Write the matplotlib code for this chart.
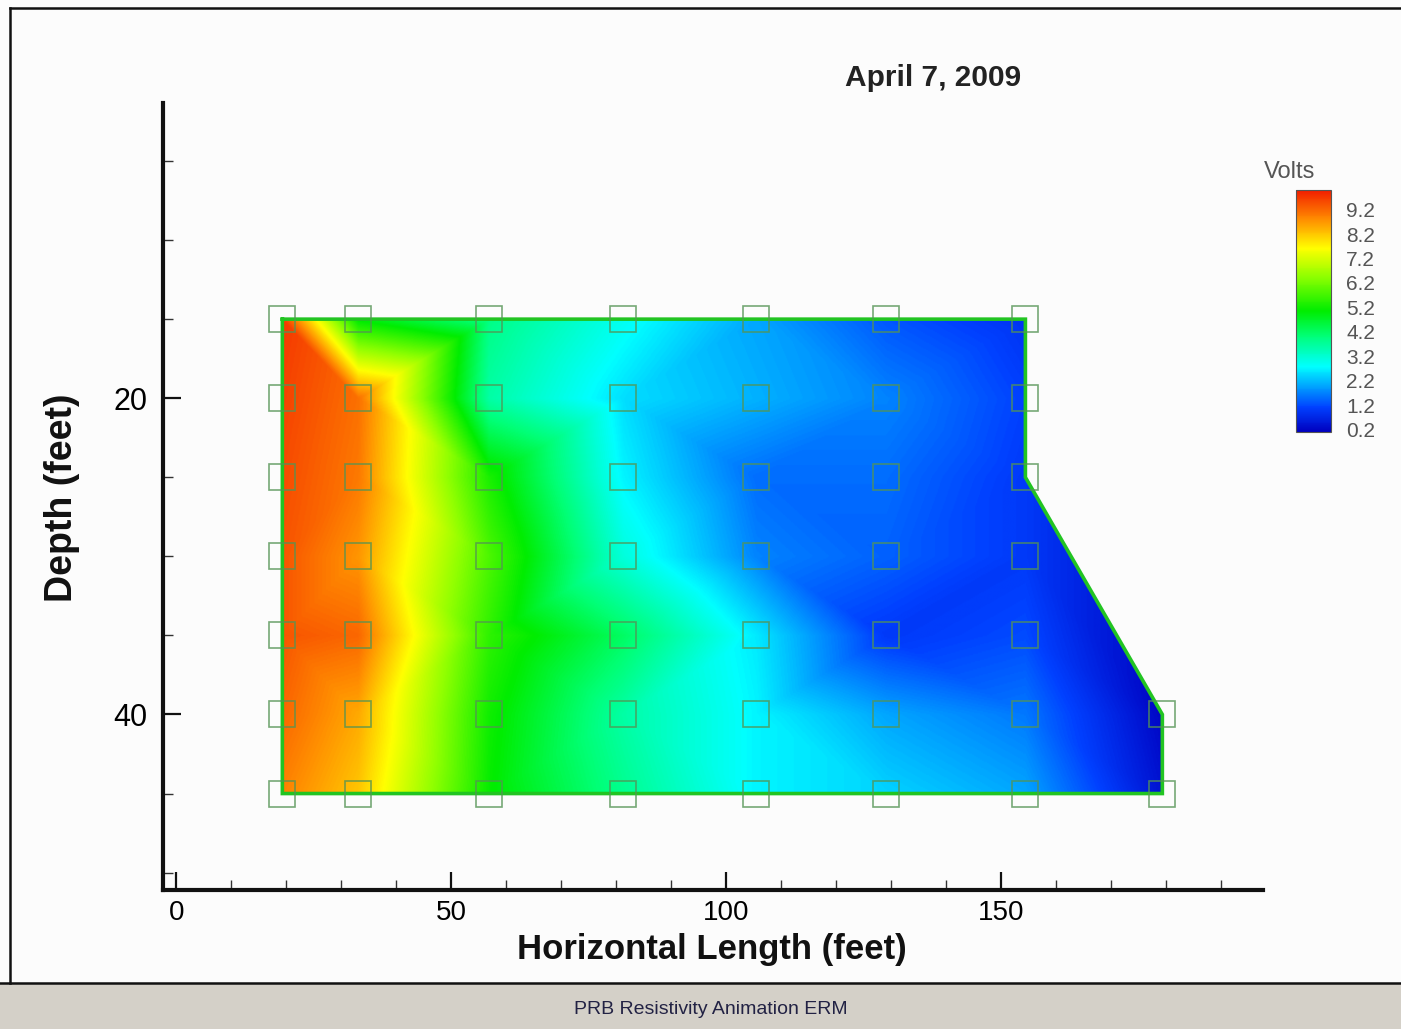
import numpy as np
import matplotlib
matplotlib.use("Agg")
import matplotlib.pyplot as plt
import matplotlib.tri as mtri
from matplotlib.path import Path
from matplotlib.colors import LinearSegmentedColormap, Normalize
from matplotlib.patches import Rectangle, Polygon
from matplotlib.lines import Line2D
from matplotlib.cm import ScalarMappable

# Electrode grid (feet) and measured potential (volts); nan = no electrode
x_nodes = [19.3, 33.1, 56.9, 81.3, 105.5, 129.1, 154.4, 179.3]
depth_nodes = [15, 20, 25, 30, 35, 40, 45]
volts = [
    [9.7, 5.0, 3.9, 2.9, 2.0, 1.3, 0.9, np.nan],
    [9.6, 9.1, 3.6, 2.5, 2.1, 1.7, 1.1, np.nan],
    [9.5, 9.0, 5.3, 2.7, 1.5, 1.5, 1.0, np.nan],
    [9.4, 8.7, 5.8, 3.1, 1.7, 1.4, 1.0, np.nan],
    [9.4, 9.2, 5.5, 4.2, 2.6, 1.0, 1.2, np.nan],
    [9.2, 8.5, 5.2, 3.6, 2.7, 2.0, 1.6, 0.2],
    [8.9, 8.2, 5.1, 3.8, 2.7, 2.4, 2.0, 0.4],
]
# outline of the section as (column index, row index) of grid nodes
outline = [(0, 0), (6, 0), (6, 2), (7, 5), (7, 6), (0, 6)]

cbar_ticks = [0.2, 1.2, 2.2, 3.2, 4.2, 5.2, 6.2, 7.2, 8.2, 9.2]
vmin, vmax = 0.1, 10.0

# Tecplot-like rainbow
cmap = LinearSegmentedColormap.from_list("rainbow_tp", [
    (0.00, (0.0, 0.0, 0.75)),
    (0.10, (0.0, 0.25, 1.0)),
    (0.27, (0.0, 1.0, 1.0)),
    (0.40, (0.0, 1.0, 0.45)),
    (0.50, (0.0, 0.93, 0.0)),
    (0.64, (0.55, 1.0, 0.0)),
    (0.76, (1.0, 1.0, 0.0)),
    (0.88, (1.0, 0.55, 0.0)),
    (1.00, (0.95, 0.12, 0.0)),
])

plt.rcParams["font.family"] = ["Liberation Sans", "DejaVu Sans"]

xx, dd = np.meshgrid(x_nodes, depth_nodes)
vv = np.array(volts)
ok = ~np.isnan(vv)
px, pd_, pv = xx[ok], dd[ok], vv[ok]

poly = [(x_nodes[c], depth_nodes[r]) for c, r in outline]
tri = mtri.Triangulation(px, pd_)
cx = px[tri.triangles].mean(axis=1)
cy = pd_[tri.triangles].mean(axis=1)
tri.set_mask(~Path(poly).contains_points(np.column_stack([cx, cy])))

# linear interpolation of the potential on a fine grid
interp = mtri.LinearTriInterpolator(tri, pv)
gx = np.linspace(min(x_nodes), max(x_nodes), 900)
gy = np.linspace(min(depth_nodes), max(depth_nodes), 400)
GX, GY = np.meshgrid(gx, gy)
GZ = interp(GX, GY)

fig = plt.figure(figsize=(14.01, 10.29), dpi=100)
fig.patch.set_facecolor("#fcfcfc")

ax = fig.add_axes([163 / 1401, 139 / 1029, 1100 / 1401, 787 / 1029])
ax.set_facecolor("none")
im = ax.imshow(GZ, origin="upper", aspect="auto", cmap=cmap, vmin=vmin, vmax=vmax,
               extent=(gx[0], gx[-1], gy[-1], gy[0]), interpolation="bilinear")
im.set_clip_path(Polygon(poly, closed=True, transform=ax.transData))

# outline of section
ox = [p[0] for p in poly] + [poly[0][0]]
oy = [p[1] for p in poly] + [poly[0][1]]
ax.plot(ox, oy, color="#22c422", lw=2.6, solid_joinstyle="miter")

# electrode markers
ax.plot(px, pd_, ls="none", marker="s", ms=19, mfc="none",
        mec=(0.33, 0.58, 0.33), mew=1.2, alpha=0.8)

ax.set_xlim(-2.4, 197.6)
ax.set_ylim(51.1, 1.33)
ax.set_xticks([0, 50, 100, 150])
ax.set_xticks(np.arange(0, 200, 10), minor=True)
ax.set_yticks([20, 40])
ax.set_yticks(np.arange(5, 55, 5), minor=True)
ax.tick_params(which="major", direction="in", length=13, width=1.6, color="#111111")
ax.tick_params(which="minor", direction="in", length=7, width=1.0, color="#333333")
ax.tick_params(axis="x", pad=7, labelsize=20)
ax.tick_params(axis="y", pad=11, labelsize=22)
for s in ["top", "right"]:
    ax.spines[s].set_visible(False)
for s in ["left", "bottom"]:
    ax.spines[s].set_linewidth(3)
    ax.spines[s].set_color("#111111")

fig.text(712 / 1401, 1 - 959 / 1029, "Horizontal Length (feet)", ha="center",
         va="baseline", fontsize=25, fontweight="bold", color="#111111")
fig.text(62 / 1401, 1 - 498 / 1029, "Depth (feet)", ha="center", va="center",
         rotation=90, fontsize=27, fontweight="bold", color="#111111")
fig.text(933 / 1401, 1 - 78 / 1029, "April 7, 2009", ha="center", va="center",
         fontsize=21.5, fontweight="bold", color="#222222")

# colorbar
cax = fig.add_axes([1296 / 1401, 1 - 432 / 1029, 35 / 1401, 242 / 1029])
cb = fig.colorbar(ScalarMappable(norm=Normalize(vmin, vmax), cmap=cmap),
                  cax=cax, ticks=cbar_ticks)
cb.ax.tick_params(length=0, pad=11, labelsize=15, labelcolor="#555555")
cb.ax.set_yticklabels([f"{t:.1f}" for t in cbar_ticks])
cb.outline.set_linewidth(0.8)
cb.outline.set_edgecolor("#555555")
fig.text(1290 / 1401, 1 - 172 / 1029, "Volts", ha="center", va="center",
         fontsize=17, color="#555555")

# window frame and status bar
fig.patches.append(Rectangle((0, 0), 1, 46 / 1029, transform=fig.transFigure,
                             facecolor="#d4d0c8", edgecolor="none", zorder=0))
for xs, ys in [([10 / 1401, 10 / 1401], [46 / 1029, 1 - 8 / 1029]),
               ([10 / 1401, 1], [1 - 8 / 1029, 1 - 8 / 1029]),
               ([0, 1], [46 / 1029, 46 / 1029])]:
    fig.lines.append(Line2D(xs, ys, transform=fig.transFigure, color="#111111", lw=1.8))
fig.text(711 / 1401, 1 - 1010 / 1029, "PRB Resistivity Animation ERM", ha="center",
         va="center", fontsize=14, color="#222244")

fig.savefig("out.png", dpi=100, facecolor=fig.get_facecolor())
